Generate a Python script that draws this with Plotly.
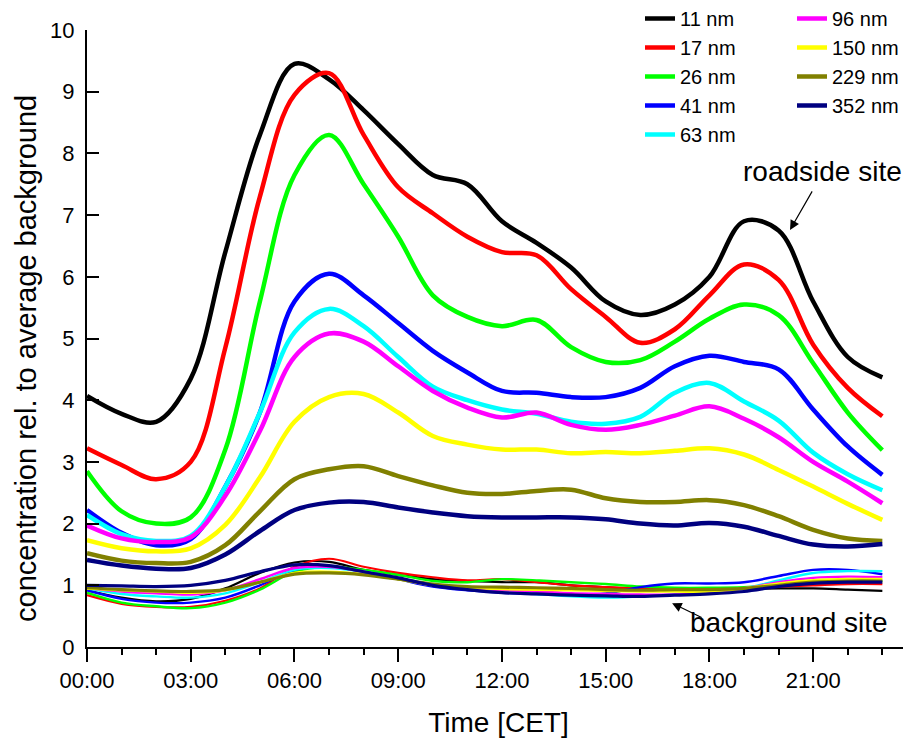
import plotly.graph_objects as go

hours = list(range(24))
sizes = ["11 nm", "17 nm", "26 nm", "41 nm", "63 nm", "96 nm", "150 nm", "229 nm", "352 nm"]

# roadside site, relative to average background
road_11 = [4.07, 3.78, 3.65, 4.35, 6.4, 8.3, 9.45, 9.2, 8.7, 8.15, 7.65, 7.5, 6.9, 6.55, 6.15, 5.6, 5.38, 5.55, 6.0, 6.9, 6.75, 5.6, 4.7, 4.37]
road_17 = [3.22, 2.95, 2.72, 3.0, 4.85, 7.3, 8.95, 9.3, 8.3, 7.45, 7.03, 6.65, 6.4, 6.35, 5.8, 5.35, 4.93, 5.15, 5.7, 6.2, 5.95, 4.9, 4.2, 3.74]
road_26 = [2.85, 2.2, 2.0, 2.1, 3.2, 5.6, 7.65, 8.3, 7.5, 6.65, 5.7, 5.35, 5.2, 5.3, 4.86, 4.62, 4.65, 4.95, 5.32, 5.55, 5.38, 4.6, 3.8, 3.19]
road_41 = [2.22, 1.85, 1.65, 1.75, 2.6, 3.8, 5.6, 6.05, 5.7, 5.25, 4.8, 4.45, 4.15, 4.12, 4.05, 4.05, 4.2, 4.55, 4.72, 4.62, 4.5, 3.85, 3.25, 2.79]
road_63 = [2.14, 1.83, 1.72, 1.8, 2.6, 3.8, 5.1, 5.48, 5.2, 4.7, 4.22, 4.0, 3.85, 3.78, 3.65, 3.62, 3.73, 4.12, 4.28, 3.98, 3.67, 3.15, 2.8, 2.54]
road_96 = [1.97, 1.76, 1.7, 1.78, 2.45, 3.5, 4.7, 5.08, 4.95, 4.55, 4.15, 3.88, 3.72, 3.8, 3.6, 3.52, 3.6, 3.75, 3.9, 3.7, 3.4, 3.0, 2.68, 2.33]
road_150 = [1.73, 1.6, 1.55, 1.6, 1.98, 2.75, 3.65, 4.05, 4.1, 3.8, 3.42, 3.28, 3.2, 3.2, 3.14, 3.16, 3.14, 3.18, 3.22, 3.12, 2.87, 2.6, 2.32, 2.06]
road_229 = [1.52, 1.4, 1.36, 1.38, 1.65, 2.2, 2.72, 2.88, 2.93, 2.77, 2.62, 2.5, 2.48, 2.53, 2.55, 2.41, 2.35, 2.35, 2.38, 2.3, 2.12, 1.9, 1.76, 1.72]
road_352 = [1.41, 1.32, 1.27, 1.28, 1.5, 1.88, 2.22, 2.34, 2.35, 2.26, 2.18, 2.12, 2.1, 2.1, 2.1, 2.07, 2.0, 1.97, 2.01, 1.95, 1.8, 1.66, 1.63, 1.67]

# background site, relative to average background
bg_11 = [0.92, 0.8, 0.74, 0.78, 0.95, 1.2, 1.37, 1.38, 1.25, 1.17, 1.1, 1.07, 1.05, 1.05, 1.0, 0.97, 0.93, 0.93, 0.93, 0.94, 0.95, 0.95, 0.93, 0.91]
bg_17 = [0.84, 0.7, 0.65, 0.65, 0.75, 0.95, 1.3, 1.43, 1.3, 1.2, 1.13, 1.08, 1.1, 1.05, 1.0, 0.97, 0.95, 0.93, 0.93, 0.95, 0.98, 1.0, 1.02, 1.02]
bg_26 = [0.88, 0.72, 0.66, 0.63, 0.72, 0.93, 1.22, 1.3, 1.25, 1.17, 1.07, 1.05, 1.1, 1.08, 1.05, 1.02, 0.98, 0.96, 0.96, 0.97, 1.0, 1.04, 1.06, 1.07]
bg_41 = [0.92, 0.78, 0.72, 0.72, 0.8, 1.0, 1.25, 1.3, 1.22, 1.1, 0.98, 0.92, 0.88, 0.86, 0.85, 0.87, 0.97, 1.03, 1.03, 1.05, 1.15, 1.25, 1.25, 1.18]
bg_63 = [0.95, 0.86, 0.82, 0.8, 0.87, 1.05, 1.25, 1.28, 1.22, 1.12, 1.0, 0.94, 0.9, 0.86, 0.82, 0.8, 0.82, 0.85, 0.88, 0.95, 1.08, 1.2, 1.23, 1.23]
bg_96 = [0.95, 0.9, 0.87, 0.85, 0.92, 1.1, 1.28, 1.3, 1.22, 1.12, 1.0, 0.95, 0.92, 0.9, 0.87, 0.86, 0.85, 0.85, 0.88, 0.95, 1.05, 1.12, 1.14, 1.13]
bg_150 = [0.95, 0.92, 0.9, 0.88, 0.92, 1.05, 1.2, 1.22, 1.18, 1.1, 1.0, 0.96, 0.94, 0.93, 0.92, 0.91, 0.9, 0.9, 0.9, 0.95, 1.03, 1.08, 1.1, 1.1]
bg_229 = [0.96, 0.93, 0.91, 0.9, 0.93, 1.05, 1.18, 1.2, 1.17, 1.1, 1.02, 0.98, 0.97, 0.96, 0.95, 0.93, 0.92, 0.93, 0.93, 0.95, 1.0, 1.05, 1.07, 1.07]
bg_352 = [1.0, 0.99, 0.98, 1.0, 1.08, 1.22, 1.33, 1.32, 1.22, 1.12, 1.0, 0.93, 0.88, 0.86, 0.84, 0.83, 0.82, 0.84, 0.86, 0.9, 0.98, 1.03, 1.05, 1.05]

tick_vals = [0, 3, 6, 9, 12, 15, 18, 21]
tick_text = ["00:00", "03:00", "06:00", "09:00", "12:00", "15:00", "18:00", "21:00"]

road = [road_11, road_17, road_26, road_41, road_63, road_96, road_150, road_229, road_352]
bg = [bg_11, bg_17, bg_26, bg_41, bg_63, bg_96, bg_150, bg_229, bg_352]
colors = ["#000000", "#FF0000", "#00FF00", "#0000FF", "#00FFFF", "#FF00FF", "#FFFF00", "#808000", "#000080"]
bg_widths = [2.2, 2.2, 2.4, 2.4, 2.4, 2.4, 2.6, 3.2, 3.2]

FONT = "Liberation Sans, Arial, sans-serif"

# page body has an 8px default margin; figure is sized so the plot lands where the reference has it
W, H = 903, 731
ML, MR, MT, MB = 79, 1, 22, 92
PW = W - ML - MR
PH = H - MT - MB


def px_x(sx):
    return (sx - 8 - ML) / PW


def px_y(sy):
    return 1 + (MT - (sy - 8)) / PH


fig = go.Figure()
for i in range(9):
    fig.add_trace(go.Scatter(x=hours, y=bg[i], mode="lines", showlegend=False,
                             line=dict(color=colors[i], width=bg_widths[i], shape="spline", smoothing=1.0),
                             hoverinfo="skip"))
for i in range(9):
    fig.add_trace(go.Scatter(x=hours, y=road[i], mode="lines", name=sizes[i],
                             legend="legend" if i < 5 else "legend2",
                             line=dict(color=colors[i], width=4.5, shape="spline", smoothing=1.0)))

leg_common = dict(font=dict(family=FONT, size=20, color="black"), bgcolor="rgba(0,0,0,0)",
                  yanchor="top", xanchor="left", tracegroupgap=0, itemwidth=30)

fig.update_layout(
    width=W, height=H,
    margin=dict(l=ML, r=MR, t=MT, b=MB, autoexpand=False),
    paper_bgcolor="white", plot_bgcolor="white",
    font=dict(family=FONT, size=22, color="black"),
    legend=dict(x=px_x(640), y=px_y(-1), **leg_common),
    legend2=dict(x=px_x(792), y=px_y(-1), **leg_common),
    xaxis=dict(range=[0, 23.8], tickvals=tick_vals, ticktext=tick_text,
               ticks="outside", ticklen=13, tickwidth=2, tickcolor="black",
               minor=dict(dtick=1, tick0=0, ticks="outside", ticklen=6, tickwidth=2, tickcolor="black"),
               showline=True, linewidth=2, linecolor="black", showgrid=False, zeroline=False,
               tickfont=dict(size=22),
               title=dict(text="Time [CET]", font=dict(size=28), standoff=20)),
    yaxis=dict(range=[0, 10], dtick=1, ticks="inside", ticklen=12, tickwidth=2, tickcolor="black",
               showline=True, linewidth=2, linecolor="black", showgrid=False, zeroline=False,
               tickfont=dict(size=22), ticklabelstandoff=6),
)

# y-axis title (placed as in the reference, slightly below the axis centre)
fig.add_annotation(x=px_x(26), y=px_y(359), xref="paper", yref="paper",
                   text="concentration rel. to average background", textangle=-90,
                   showarrow=False, xanchor="center", yanchor="middle", font=dict(size=29))

fig.add_annotation(x=21.26, y=7.7, text="roadside site", showarrow=False, font=dict(size=28))
fig.add_annotation(x=20.3, y=0.39, text="background site", showarrow=False, font=dict(size=28))
fig.add_annotation(x=20.33, y=6.76, text="", showarrow=True, arrowhead=2, arrowsize=1.6,
                   arrowwidth=1.2, arrowcolor="black", ax=23, ay=-40)
fig.add_annotation(x=16.92, y=0.71, text="", showarrow=True, arrowhead=2, arrowsize=1.6,
                   arrowwidth=1.2, arrowcolor="black", ax=31, ay=15)

fig.write_html("out.html")
